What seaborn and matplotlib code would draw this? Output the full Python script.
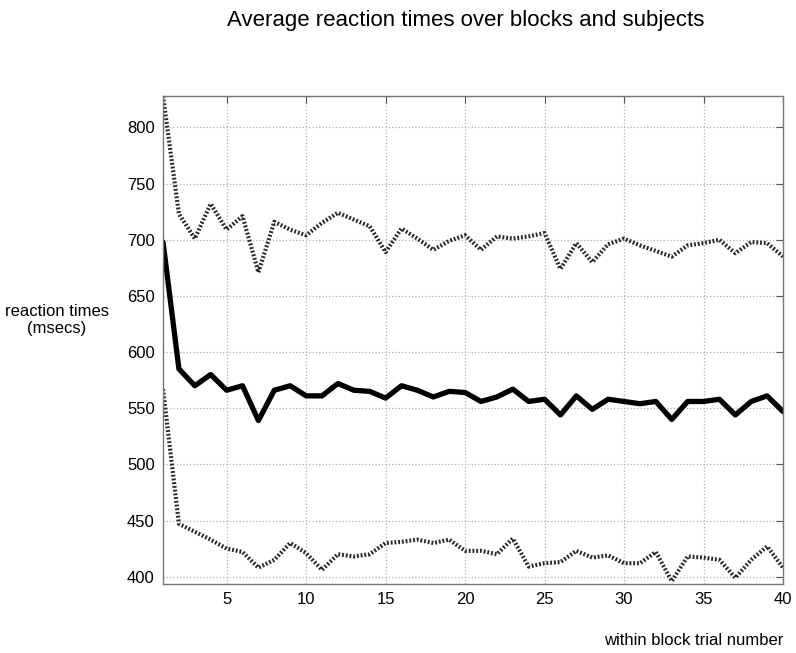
import numpy as np
import pandas as pd
import matplotlib
matplotlib.use("Agg")
import matplotlib.pyplot as plt
import seaborn as sns

# within-block trial numbers
trials = list(range(1, 41))

# mean reaction time (solid line)
rt_mean = [698, 585, 570, 580, 566, 570, 539, 566, 570, 561,
           561, 572, 566, 565, 559, 570, 566, 560, 565, 564,
           556, 560, 567, 556, 558, 544, 561, 549, 558, 556,
           554, 556, 540, 556, 556, 558, 544, 556, 561, 547]

# upper bound (dotted)
rt_upper = [828, 723, 701, 732, 709, 721, 671, 716, 709, 704,
            715, 724, 718, 712, 689, 710, 701, 691, 699, 704,
            691, 703, 701, 703, 706, 674, 697, 680, 696, 701,
            695, 690, 685, 695, 697, 700, 688, 698, 697, 685]

# lower bound (dotted)
rt_lower = [567, 447, 440, 433, 425, 422, 408, 415, 430, 421,
            406, 420, 418, 420, 430, 431, 433, 430, 433, 423,
            423, 420, 434, 409, 412, 413, 423, 417, 419, 412,
            412, 422, 396, 418, 417, 415, 399, 415, 427, 408]

df = pd.DataFrame({"trial": trials, "mean": rt_mean,
                   "upper": rt_upper, "lower": rt_lower})

sns.set_theme(style="white")
plt.rcParams["font.family"] = ["Liberation Sans", "DejaVu Sans"]
plt.rcParams["text.color"] = "black"
plt.rcParams["axes.labelcolor"] = "black"
plt.rcParams["xtick.labelcolor"] = "black"
plt.rcParams["ytick.labelcolor"] = "black"

fig = plt.figure(figsize=(7.96, 6.53), dpi=100)
ax = fig.add_axes([0.2048, 0.1057, 0.7789, 0.7473])

dot = (0, (0.45, 0.45))
sns.lineplot(data=df, x="trial", y="upper", ax=ax, color="#2a2a2a",
             linewidth=3.0, linestyle=dot)
sns.lineplot(data=df, x="trial", y="lower", ax=ax, color="#2a2a2a",
             linewidth=3.0, linestyle=dot)
sns.lineplot(data=df, x="trial", y="mean", ax=ax, color="black",
             linewidth=3.8)

ax.set_xlim(1, 40)
ax.set_ylim(393.5, 828)
ax.set_xticks(range(5, 41, 5))
ax.set_yticks(range(400, 801, 50))
ax.grid(True, color="#b0b0b0", linestyle=":", linewidth=0.9)
ax.tick_params(direction="in", top=True, right=True, length=5,
               width=0.8, color="#555555", labelsize=12, pad=6)
for s in ax.spines.values():
    s.set_color("#777777")
    s.set_linewidth(1.0)

ax.set_ylabel("reaction times\n(msecs)", rotation=0, fontsize=12,
              ha="center", va="center", linespacing=1.1)
ax.yaxis.set_label_coords(-0.171, 0.541)
ax.set_xlabel("within block trial number", fontsize=12,
              ha="center", va="center")
ax.xaxis.set_label_coords(0.856, -0.115)

fig.text(0.585, 0.968, "Average reaction times over blocks and subjects",
         ha="center", va="center", fontsize=16)

fig.savefig("out.png", dpi=100)
plt.close(fig)
